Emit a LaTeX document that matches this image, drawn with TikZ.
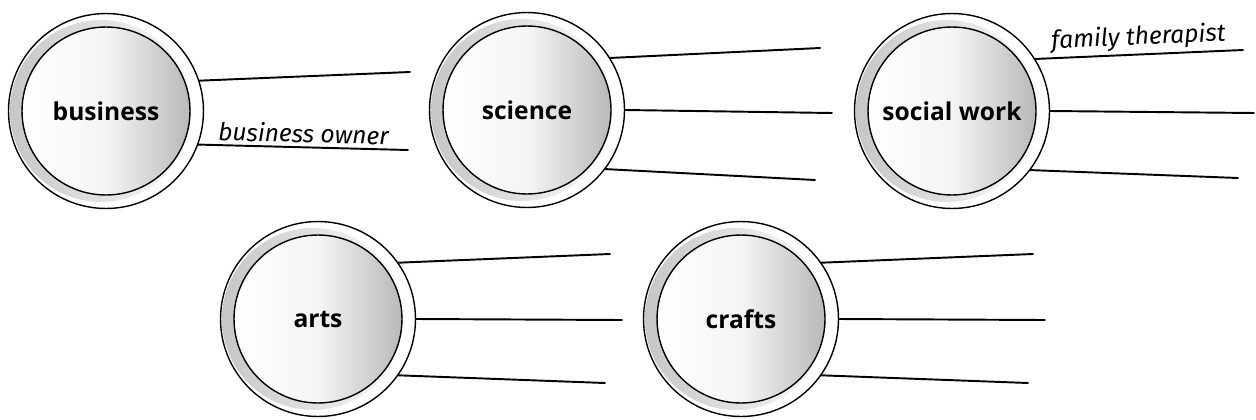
\documentclass[tikz,border=0pt]{standalone}
\usepackage{fontspec}
\setsansfont{Open Sans}
\newfontfamily\handfont{Fira Sans}
\usepackage{tikz}
\usetikzlibrary{positioning,calc}
\tikzset{
  ring/.style={circle, draw=black, line width=0.8pt, fill=white, minimum size=3.9cm,
               inner sep=0pt, font=\sffamily\bfseries\fontsize{14}{16}\selectfont,
               path picture={
                 \shade[left color=gray!45, right color=white]
                   ([xshift=-0.1cm]path picture bounding box.center) circle (1.82cm);
                 \shade[draw=black, line width=0.8pt, left color=white, right color=gray!55,
                        middle color=white!92!gray]
                   (path picture bounding box.center) circle (1.68cm);
               }},
  spoke/.style={line width=1.1pt, line cap=round},
  hand/.style={font=\handfont\itshape\fontsize{14}{16}\selectfont, inner sep=2pt}
}
\begin{document}
\begin{tikzpicture}[x=0.02cm, y=-0.02cm]
  \useasboundingbox (0,0) rectangle (1256,419);

  % Top row
  \node[ring] (bus) at (106,111) {business};
  \node[ring] (sci) at (527,110) {science};
  \node[ring] (soc) at (952,111) {social work};

  % Bottom row
  \node[ring] (art) at (318,319) {arts};
  \node[ring] (craft) at (741,319) {crafts};

  % business: two blanks
  \coordinate (bus-1) at (410,72);
  \coordinate (bus-2) at (408,150);
  \draw[spoke] (bus.18) -- (bus-1);
  \draw[spoke] (bus.-20) -- (bus-2)
    node[hand, midway, above, sloped] {business owner};

  % science
  \foreach \a/\ex/\ey [count=\i] in {32/820/48, 0/832/113, -37/815/180}{
    \coordinate (sci-\i) at (\ex,\ey);
    \draw[spoke] (sci.\a) -- (sci-\i);
  }

  % social work
  \coordinate (soc-1) at (1243,50);
  \draw[spoke] (soc.32) -- (soc-1)
    node[hand, midway, above, sloped] {family therapist};
  \foreach \a/\ex/\ey [count=\i from 2] in {0/1254/113, -37/1238/178}{
    \coordinate (soc-\i) at (\ex,\ey);
    \draw[spoke] (soc.\a) -- (soc-\i);
  }

  % arts and crafts
  \foreach \n/\dx in {art/0, craft/423}{
    \foreach \a/\ex/\ey [count=\i] in {35/610/254, 0/622/320, -35/605/383}{
      \coordinate (\n-\i) at ($(\ex,\ey)+(\dx,0)$);
      \draw[spoke] (\n.\a) -- (\n-\i);
    }
  }
\end{tikzpicture}
\end{document}
